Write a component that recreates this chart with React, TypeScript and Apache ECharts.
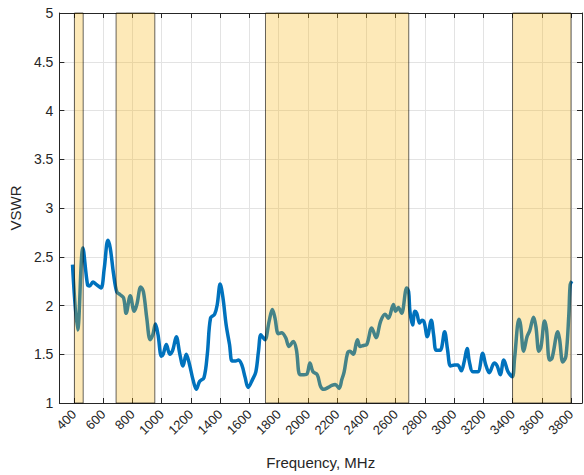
import React, { useEffect, useRef } from "react";
import * as echarts from "echarts";

const freqMHz = [
  390, 425, 461, 493, 507, 530, 550, 584, 607, 632, 648, 671, 693, 716, 739, 757, 785, 812, 830, 857,
  875, 898, 921, 939, 957, 975, 998, 1010, 1032, 1055, 1075, 1100, 1123, 1146, 1168, 1191, 1214, 1237,
  1259, 1289, 1312, 1334, 1362, 1380, 1400, 1419, 1441, 1464, 1482, 1505, 1525, 1548, 1571, 1591, 1621,
  1644, 1662, 1678, 1694, 1707, 1735, 1757, 1775, 1798, 1820, 1848, 1871, 1900, 1921, 1946, 1973, 1995,
  2014, 2035, 2064, 2087, 2110, 2140, 2164, 2187, 2214, 2232, 2248, 2271, 2289, 2310, 2339, 2357, 2380,
  2403, 2437, 2466, 2498, 2528, 2551, 2585, 2600, 2619, 2641, 2676, 2689, 2698, 2716, 2732, 2745, 2764,
  2780, 2795, 2817, 2844, 2860, 2878, 2905, 2935, 2955, 2976, 3003, 3025, 3049, 3070, 3089, 3105, 3128,
  3162, 3196, 3215, 3241, 3275, 3295, 3316, 3340, 3369, 3398, 3414, 3444, 3455, 3476, 3499, 3517, 3544,
  3560, 3580, 3595, 3619, 3632, 3653, 3670, 3710, 3722, 3744, 3765, 3785, 3794, 3805,
];

const vswr = [
  2.42, 1.75, 2.59, 2.21, 2.2, 2.24, 2.22, 2.18, 2.38, 2.67, 2.59, 2.32, 2.14, 2.11, 2.08, 1.92, 2.1, 1.94, 2.01, 2.19,
  2.14, 1.87, 1.65, 1.7, 1.81, 1.7, 1.48, 1.5, 1.6, 1.5, 1.54, 1.68, 1.51, 1.38, 1.5, 1.39, 1.24, 1.14,
  1.22, 1.26, 1.5, 1.87, 1.91, 2.01, 2.22, 2.08, 1.8, 1.6, 1.43, 1.43, 1.44, 1.39, 1.26, 1.16, 1.24,
  1.32, 1.53, 1.7, 1.67, 1.65, 1.84, 1.96, 1.87, 1.71, 1.72, 1.67, 1.58, 1.63, 1.55, 1.29, 1.29, 1.3,
  1.41, 1.32, 1.29, 1.17, 1.14, 1.16, 1.18, 1.19, 1.15, 1.24, 1.32, 1.51, 1.53, 1.5, 1.65, 1.58, 1.59,
  1.6, 1.77, 1.67, 1.84, 1.91, 1.87, 2.01, 1.94, 1.98, 1.92, 2.18, 2.14, 1.94, 1.8, 1.94, 1.92, 1.82,
  1.85, 1.83, 1.68, 1.85, 1.7, 1.54, 1.54, 1.73, 1.55, 1.38, 1.39, 1.39, 1.33, 1.43, 1.56, 1.42, 1.32,
  1.32, 1.51, 1.4, 1.31, 1.41, 1.38, 1.29, 1.44, 1.32, 1.27, 1.46, 1.86, 1.8, 1.53, 1.68, 1.74, 1.88,
  1.78, 1.53, 1.58, 1.84, 1.76, 1.44, 1.46, 1.73, 1.65, 1.42, 1.48, 1.91, 2.21, 2.25,
];

const bandStarts = [403, 688, 1710, 3400];
const bandEnds = [463, 953, 2690, 3800];

const xTicks = [400, 600, 800, 1000, 1200, 1400, 1600, 1800, 2000, 2200, 2400, 2600, 2800, 3000, 3200, 3400, 3600, 3800];

const FONT = "'Liberation Sans', Arial, Helvetica, sans-serif";
const DARK = "#262626";
const GRID = "#e3e3e3";

export default function App() {
  const ref = useRef<HTMLDivElement>(null);
  useEffect(() => {
    if (!ref.current) return;
    const chart = echarts.init(ref.current, undefined, { renderer: "svg" });
    const data = freqMHz.map((f, i) => [f, vswr[i]]);
    const bands = bandStarts.map((s, i) => [{ xAxis: s }, { xAxis: bandEnds[i] }]);
    chart.setOption({
      animation: false,
      backgroundColor: "#ffffff",
      textStyle: { fontFamily: FONT },
      grid: { left: 58, right: 2, top: 13, bottom: 72, containLabel: false },
      xAxis: [
        {
          type: "value",
          min: 300,
          max: 3875,
          name: "Frequency, MHz",
          nameLocation: "middle",
          nameGap: 52,
          nameTextStyle: { color: DARK, fontSize: 15, fontFamily: FONT },
          axisLine: { show: true, lineStyle: { color: DARK, width: 1 } },
          axisTick: { show: true, inside: true, length: 5, customValues: xTicks, lineStyle: { color: DARK } },
          axisLabel: {
            customValues: xTicks,
            formatter: (v: number) => String(Math.round(v)),
            rotate: 45,
            color: DARK,
            fontSize: 13,
            fontFamily: FONT,
            margin: 9,
          },
          splitLine: { show: true, lineStyle: { color: GRID, width: 1 } },
        },
        {
          type: "value",
          position: "top",
          min: 300,
          max: 3875,
          axisLine: { show: true, lineStyle: { color: DARK, width: 1 } },
          axisTick: { show: true, inside: true, length: 5, customValues: xTicks, lineStyle: { color: DARK } },
          axisLabel: { show: false },
          splitLine: { show: false },
        },
      ],
      yAxis: [
        {
          type: "value",
          min: 1,
          max: 5,
          interval: 0.5,
          name: "VSWR",
          nameLocation: "middle",
          nameGap: 26,
          nameTextStyle: { color: DARK, fontSize: 15, fontFamily: FONT },
          axisLine: { show: true, lineStyle: { color: DARK, width: 1 } },
          axisTick: { show: true, inside: true, length: 5, lineStyle: { color: DARK } },
          axisLabel: { color: DARK, fontSize: 14, fontFamily: FONT, margin: 6 },
          splitLine: { show: true, lineStyle: { color: GRID, width: 1 } },
        },
        {
          type: "value",
          position: "right",
          min: 1,
          max: 5,
          interval: 0.5,
          axisLine: { show: true, lineStyle: { color: DARK, width: 1 } },
          axisTick: { show: true, inside: true, length: 5, lineStyle: { color: DARK } },
          axisLabel: { show: false },
          splitLine: { show: false },
        },
      ],
      series: [
        {
          type: "line",
          xAxisIndex: 0,
          yAxisIndex: 0,
          data,
          showSymbol: false,
          smooth: 0.35,
          z: 2,
          lineStyle: { color: "#0072BD", width: 3.5 },
          markArea: {
            z: 5,
            silent: true,
            itemStyle: {
              color: "rgba(248,176,0,0.28)",
              borderColor: "rgba(0,0,0,0.6)",
              borderWidth: 1,
            },
            data: bands,
          },
        },
      ],
    });
    return () => chart.dispose();
  }, []);
  return (
    <div
      ref={ref}
      style={{ position: "fixed", left: 0, top: 0, width: 584, height: 475, background: "#fff" }}
    />
  );
}
